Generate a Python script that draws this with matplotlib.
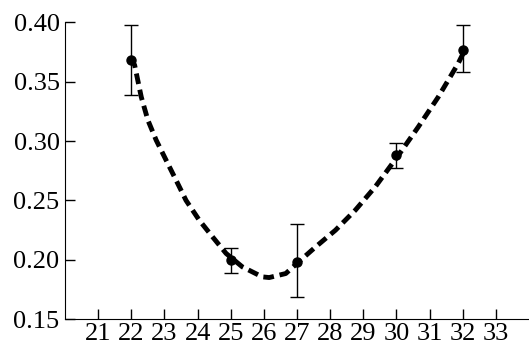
import numpy as np
import matplotlib
matplotlib.use("Agg")
import matplotlib.pyplot as plt

# measured points with error bars
x_pts = [22, 25, 27, 30, 32]
y_pts = [0.368, 0.200, 0.198, 0.288, 0.377]
y_lo = [0.339, 0.189, 0.169, 0.277, 0.358]
y_hi = [0.398, 0.210, 0.230, 0.298, 0.398]

# fitted curve
x_fit = [22.0, 22.1, 22.3, 22.5, 22.75, 23.05, 23.35, 23.65, 24.05, 24.45,
         24.86, 25.35, 25.95, 26.16, 26.66, 27.04, 27.56, 28.16, 28.76,
         29.36, 30.06, 30.66, 31.26, 31.86, 32.01]
y_fit = [0.370, 0.3638, 0.337, 0.3175, 0.3007, 0.2838, 0.267, 0.250, 0.2333,
         0.2193, 0.2053, 0.194, 0.1856, 0.185, 0.1884, 0.198, 0.2108, 0.2249,
         0.2418, 0.2614, 0.288, 0.3119, 0.337, 0.3652, 0.3736]

x_ticks = list(range(21, 34))
y_ticks = [0.15, 0.20, 0.25, 0.30, 0.35, 0.40]

plt.rcParams['font.family'] = ['Liberation Serif', 'DejaVu Serif']

fig = plt.figure(figsize=(5.29, 3.48), dpi=100)
ax = fig.add_axes([0.123, 0.083, 0.877, 0.853])

yerr = [np.array(y_pts) - np.array(y_lo), np.array(y_hi) - np.array(y_pts)]
ax.errorbar(x_pts, y_pts, yerr=yerr, fmt='o', color='black', ms=6.5,
            elinewidth=1, capsize=5, capthick=1, zorder=3)
ax.plot(x_fit, y_fit, color='black', lw=3.5, dashes=(2.2, 1.2), zorder=2)

ax.set_xlim(20, 34)
ax.set_ylim(0.15, 0.40)
ax.set_xticks(x_ticks)
ax.set_yticks(y_ticks)
ax.set_yticklabels([f"{v:.2f}" for v in y_ticks])
ax.tick_params(direction='in', length=7, width=1, labelsize=19, pad=4)
ax.tick_params(axis='x', pad=2.5)

for s in ['top', 'right']:
    ax.spines[s].set_visible(False)

fig.savefig('out.png', dpi=100)
